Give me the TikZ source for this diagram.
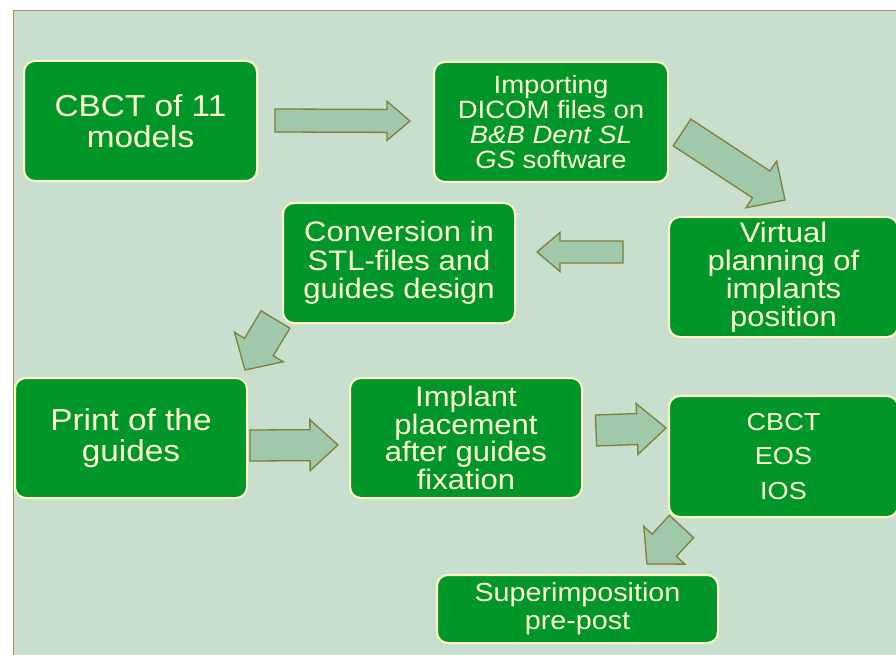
\documentclass[tikz,border=0pt]{standalone}
\usepackage{fontspec}
\setmainfont{Liberation Sans}[FakeStretch=1.1]
\usetikzlibrary{calc}
\definecolor{panel}{HTML}{C8DECE}
\definecolor{panelline}{HTML}{9A9A55}
\definecolor{boxfill}{HTML}{00962A}
\definecolor{boxline}{HTML}{FFFFC4}
\definecolor{boxtext}{HTML}{FFFFCC}
\definecolor{arrfill}{HTML}{A0C8AA}
\definecolor{arrline}{HTML}{7F7F35}
\newcommand\setfs[2]{\fontsize{#1}{#2}\selectfont}
\tikzset{
 flowbox/.style={rectangle, rounded corners=11pt, fill=boxfill, draw=boxline, line width=2pt, text=boxtext, align=center, inner sep=0pt},
 blockarr/.style={fill=arrfill, draw=arrline, line width=1.3pt, line join=miter},
}
% tail, tip, shaft half width, head half width, head length
\newcommand\barrow[5]{%
 \coordinate (hb) at ($(#2)!#5!(#1)$);
 \draw[blockarr] ($(#1)!#3!90:(#2)$) -- ($(hb)!#3!-90:(#1)$) -- ($(hb)!#4!-90:(#1)$) -- (#2) -- ($(hb)!#4!90:(#1)$) -- ($(hb)!#3!90:(#1)$) -- ($(#1)!#3!-90:(#2)$) -- cycle;}
\begin{document}
\begin{tikzpicture}[x=1pt,y=-1pt]
\useasboundingbox (0,0) rectangle (896,655);
\fill[white] (0,0) rectangle (896,655);
\draw[fill=panel, draw=panelline, line width=1.5pt] (13.5,10.5) rectangle (905,665);

\node[flowbox, minimum width=233pt, minimum height=120pt, font=\setfs{30.3}{31}] (cbct) at (140.5,121) {CBCT of 11\\models};
\node[flowbox, minimum width=234pt, minimum height=120pt, font=\setfs{25}{25}] (import) at (551,122) {Importing\\DICOM files on\\\textit{B\&B Dent SL}\\\textit{GS} software};
\node[flowbox, minimum width=229pt, minimum height=120pt, font=\setfs{28.2}{28}] (virtual) at (783.5,277) {Virtual\\planning of\\implants\\position};
\node[flowbox, minimum width=232pt, minimum height=120pt, font=\setfs{28.2}{28.5}] (conv) at (399,263) {Conversion in\\STL-files and\\guides design};
\node[flowbox, minimum width=232pt, minimum height=120pt, font=\setfs{30.3}{31}] (print) at (131,438) {Print of the\\guides};
\node[flowbox, minimum width=232pt, minimum height=120pt, font=\setfs{28.2}{27.5}] (implant) at (466,438) {Implant\\placement\\after guides\\fixation};
\node[flowbox, minimum width=229pt, minimum height=121pt, font=\setfs{24.6}{34.5}] (scans) at (783.5,456.5) {CBCT\\EOS\\IOS};
\node[flowbox, minimum width=281pt, minimum height=68pt, font=\setfs{26.1}{28}] (superimp) at (577.5,609) {Superimposition\\pre-post};

\coordinate (a1t) at (275,120.5); \coordinate (a1p) at (410,121);
\coordinate (a2t) at (682,132.5); \coordinate (a2p) at (785,200);
\coordinate (a3t) at (623,252);   \coordinate (a3p) at (537,252);
\coordinate (a4t) at (275.5,319.5); \coordinate (a4p) at (245,370);
\coordinate (a5t) at (250,445.5); \coordinate (a5p) at (338,445);
\coordinate (a6t) at (596,430.5); \coordinate (a6p) at (666,428);
\coordinate (a7t) at (681.5,526.5); \coordinate (a7p) at (647,564);

\barrow{a1t}{a1p}{11.5pt}{19.5pt}{23pt}
\barrow{a2t}{a2p}{16pt}{28pt}{28.4pt}
\barrow{a3t}{a3p}{11pt}{19.5pt}{23pt}
\barrow{a4t}{a4p}{16.8pt}{28.5pt}{26.8pt}
\barrow{a5t}{a5p}{15.5pt}{25.5pt}{28pt}
\barrow{a6t}{a6p}{15.5pt}{25.5pt}{29pt}
\barrow{a7t}{a7p}{16.5pt}{27.9pt}{25.5pt}
\end{tikzpicture}
\end{document}
